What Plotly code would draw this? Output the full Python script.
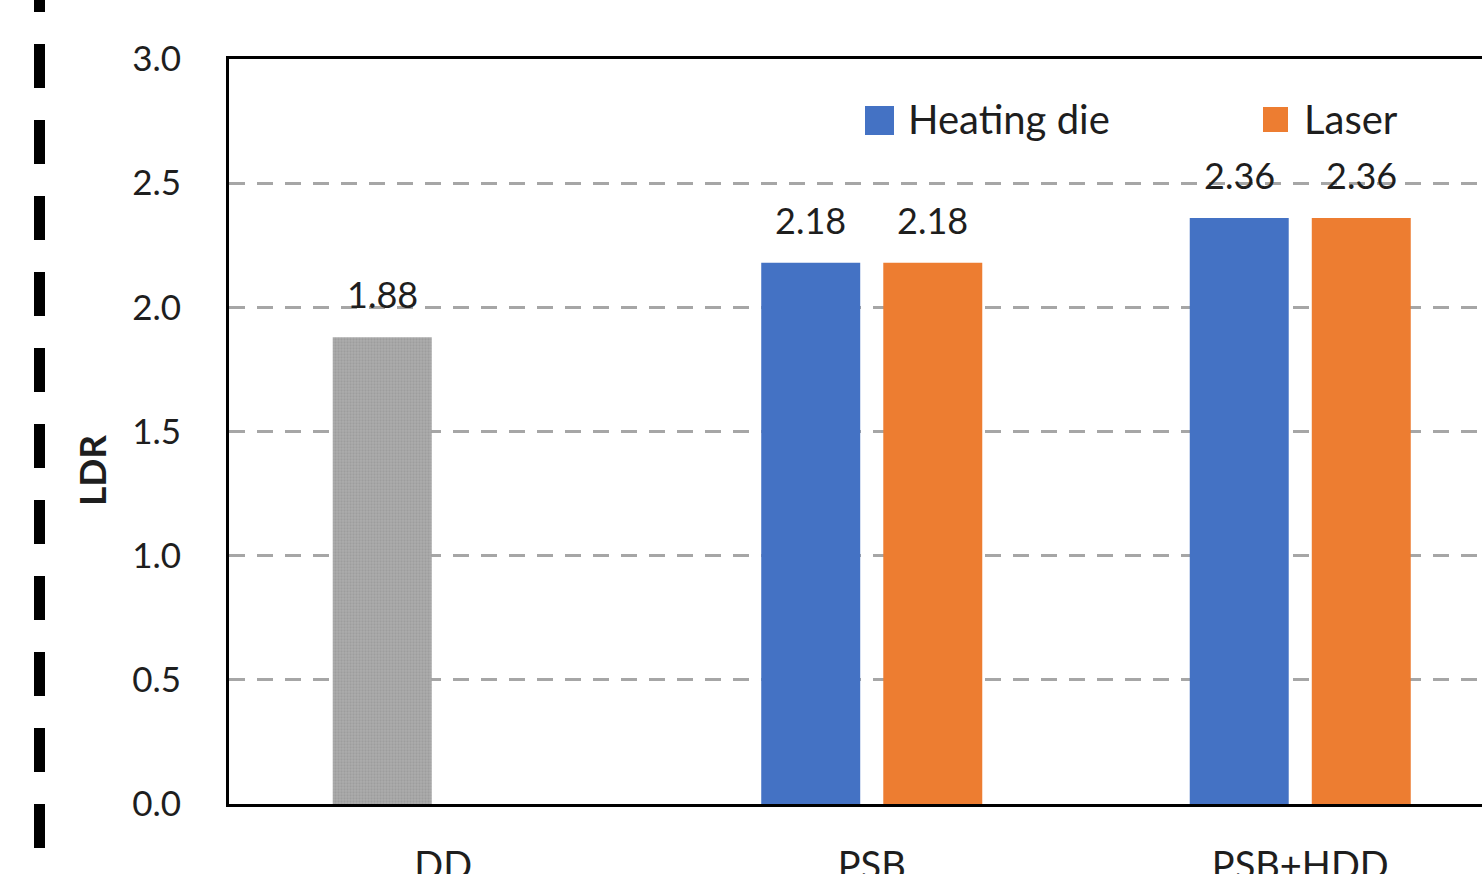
import plotly.graph_objects as go

# ---- data ----
categories = ["DD", "PSB", "PSB+HDD"]
dd_value = [1.88]
heating_die = [2.18, 2.36]
laser = [2.18, 2.36]
y_ticks = [0.0, 0.5, 1.0, 1.5, 2.0, 2.5, 3.0]

# ---- layout constants ----
W, H = 1482, 874
L, R, T, B = 229, 0, 59, 70
PW, PH = W - L - R, H - T - B
FONT = "Lato"
TXT = "#1e1e1e"

BAR_W = 0.231      # bar width in category units
SHIFT = 0.1424     # centre shift of each bar in a group
X_MAX = -0.5 + PW / 428.5


def px_x(px):
    return (px - L) / PW


def px_y(py):
    return (T + PH - py) / PH


idx = list(range(len(categories)))
grp_idx = idx[1:]

fig = go.Figure()

# DD bar (textured grey) sits in the first slot of its group
fig.add_trace(go.Bar(
    x=idx[:1], y=dd_value, width=BAR_W, offset=-SHIFT - BAR_W / 2,
    marker=dict(color="#a5a5a5", line_width=0,
                pattern=dict(shape=".", size=3, solidity=0.45,
                             fgcolor="#8e8e8e", bgcolor="#adadad")),
    showlegend=False, hoverinfo="skip",
))
fig.add_trace(go.Bar(
    x=grp_idx, y=heating_die, width=BAR_W, offset=-SHIFT - BAR_W / 2,
    marker=dict(color="#4472c4", line_width=0), name="Heating die",
    showlegend=False,
))
fig.add_trace(go.Bar(
    x=grp_idx, y=laser, width=BAR_W, offset=SHIFT - BAR_W / 2,
    marker=dict(color="#ed7d31", line_width=0), name="Laser",
    showlegend=False,
))

# value labels above bars
annotations = []
for xs, ys, sh in [(idx[:1], dd_value, -SHIFT),
                   (grp_idx, heating_die, -SHIFT),
                   (grp_idx, laser, SHIFT)]:
    for xv, yv in zip(xs, ys):
        annotations.append(dict(
            x=xv + sh, y=yv, xref="x", yref="y", text=f"{yv:.2f}",
            showarrow=False, yanchor="bottom", xanchor="center", yshift=19,
            font=dict(family=FONT, size=36, color=TXT),
        ))

# axis title
annotations.append(dict(
    x=px_x(91), y=px_y(471), xref="paper", yref="paper", text="LDR",
    textangle=-90, showarrow=False, xanchor="center", yanchor="middle",
    font=dict(family=FONT, size=37, color=TXT, weight="bold"),
))

# legend entries
legend_items = [("Heating die", "#4472c4", 865, 894, 106, 135, 906),
                ("Laser", "#ed7d31", 1263, 1288, 107, 132, 1302)]
shapes = []
for label, col, x0, x1, y0, y1, tx in legend_items:
    shapes.append(dict(type="rect", xref="paper", yref="paper",
                       x0=px_x(x0), x1=px_x(x1), y0=px_y(y1), y1=px_y(y0),
                       fillcolor=col, line_width=0))
    annotations.append(dict(
        x=px_x(tx), y=px_y(119), xref="paper", yref="paper", text=label,
        showarrow=False, xanchor="left", yanchor="middle",
        font=dict(family=FONT, size=40, color=TXT),
    ))

# heavy dashed divider on the left edge
shapes.append(dict(type="line", xref="paper", yref="paper",
                   x0=px_x(39.5), x1=px_x(39.5), y0=px_y(-32), y1=px_y(910),
                   line=dict(color="black", width=11, dash="44px,32px")))

fig.update_layout(
    width=W, height=H,
    margin=dict(l=L, r=R, t=T, b=B, pad=0, autoexpand=False),
    paper_bgcolor="white", plot_bgcolor="white",
    barmode="overlay",
    font=dict(family=FONT, color=TXT),
    annotations=annotations, shapes=shapes,
    showlegend=False,
)
fig.update_xaxes(
    range=[-0.5, X_MAX], tickvals=idx, ticktext=categories,
    showgrid=False, zeroline=False, automargin=False,
    showline=True, linecolor="black", linewidth=3, mirror=True,
    ticks="", ticklabelstandoff=26,
    tickfont=dict(family=FONT, size=38, color=TXT),
)
fig.update_yaxes(
    range=[0, 3], tickvals=y_ticks, tickformat=".1f",
    showgrid=True, gridcolor="#a6a6a6", gridwidth=2.5, griddash="16px,12px",
    zeroline=False, automargin=False,
    showline=True, linecolor="black", linewidth=3,
    ticks="", ticklabelstandoff=38,
    tickfont=dict(family=FONT, size=35, color=TXT),
)

fig.write_html("out.html", config={"displayModeBar": False})
